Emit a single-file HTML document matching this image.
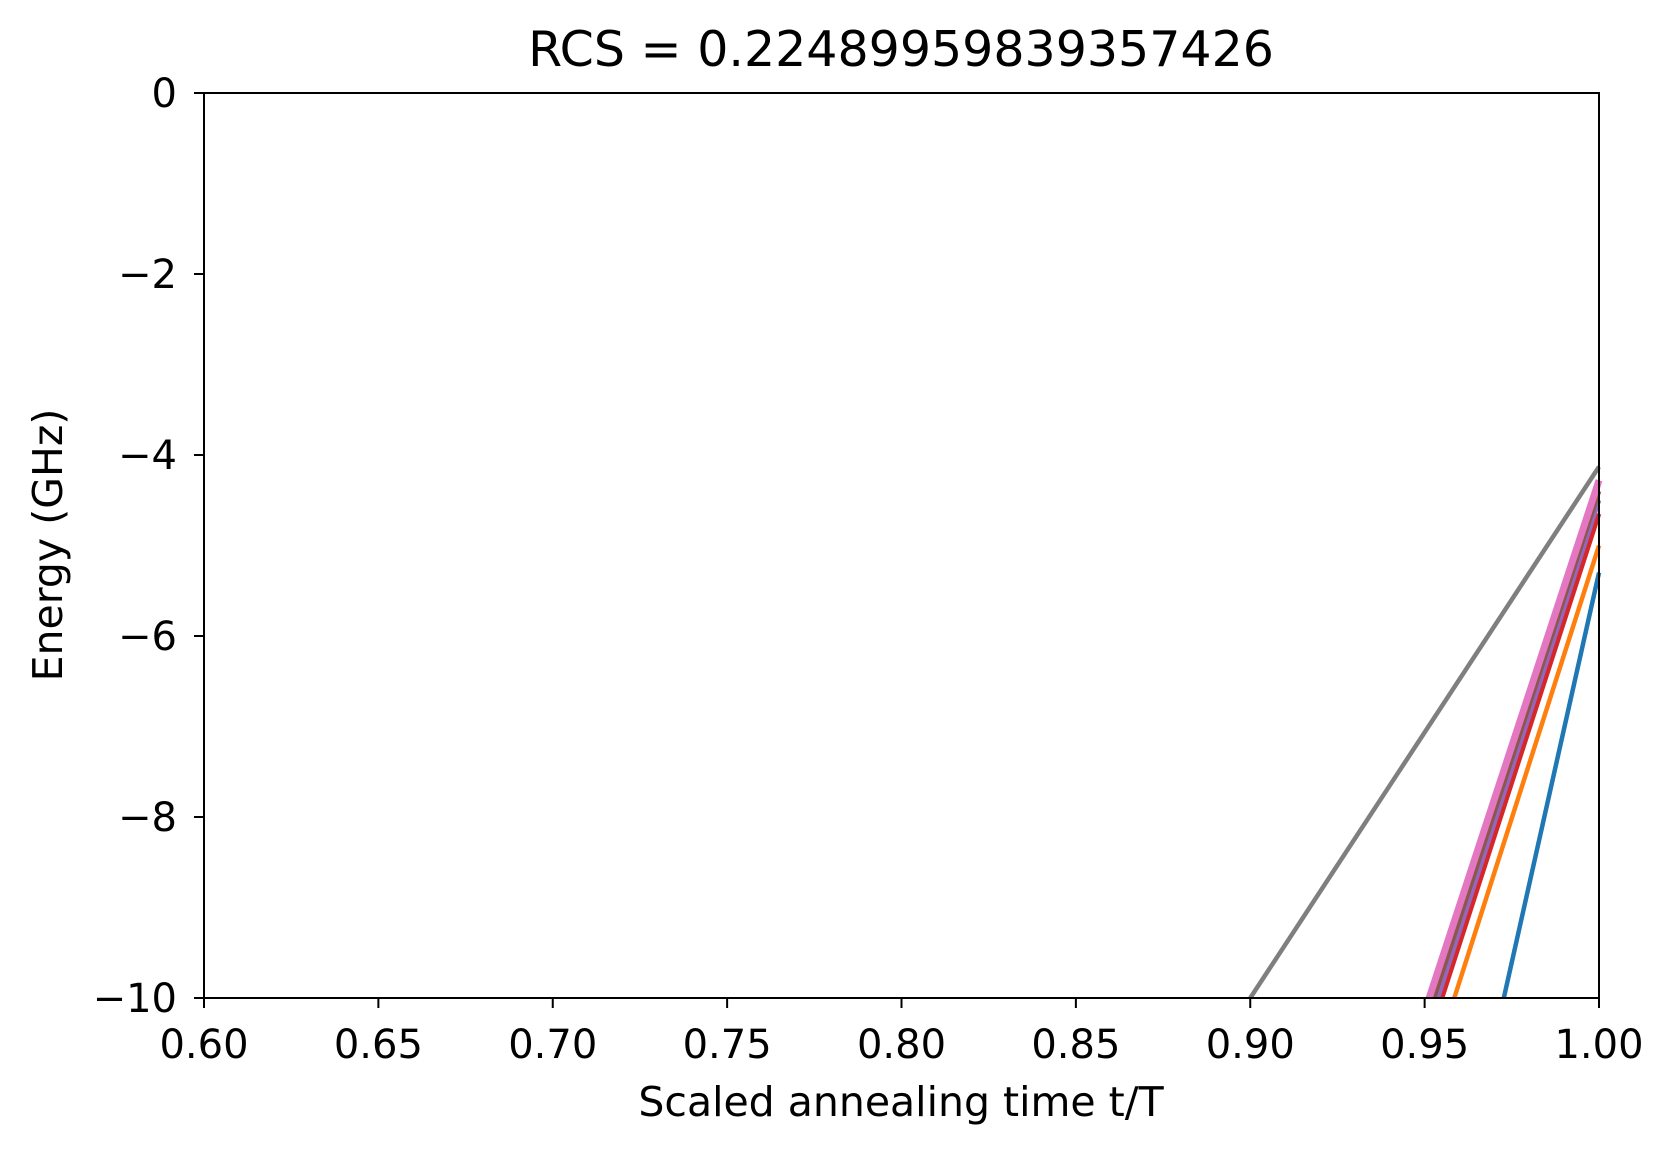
<!DOCTYPE html>
<html><head><meta charset="utf-8"><style>
body{margin:0;background:#fff}
svg text{font-family:"DejaVu Sans","Liberation Sans",sans-serif;fill:#000}
</style></head><body>
<svg id="chart" width="1675" height="1154" viewBox="0 0 1675 1154">
<g id="lines"></g>
<rect x="204" y="93" width="1395" height="905" fill="none" stroke="#000" stroke-width="2"/>
<g id="xt"></g>
<g id="yt"></g>
<text x="901" y="66" font-size="49" text-anchor="middle">RCS = 0.22489959839357426</text>
<text x="901" y="1116" font-size="41" text-anchor="middle">Scaled annealing time t/T</text>
<text transform="translate(62,545) rotate(-90)" font-size="41" text-anchor="middle">Energy (GHz)</text>
</svg>
<script>
const xTicks=[0.60,0.65,0.70,0.75,0.80,0.85,0.90,0.95,1.00];
const yTicks=[0,-2,-4,-6,-8,-10];
const seriesNames=["blue","orange","red","purple","brown","pink","gray"];
const seriesColors=["#1f77b4","#ff7f0e","#d62728","#9467bd","#8c564b","#e377c2","#7f7f7f"];
const startX=[0.9727,0.9585,0.9550,0.9538,0.9527,0.9513,0.900];
const startY=[-10,-10,-10,-10,-10,-10,-10];
const endX=[1,1,1,1,1,1,1];
const endY=[-5.3,-5.0,-4.65,-4.5,-4.4,-4.28,-4.13];
const X0=204,X1=1599,Y0=93,Y1=998;
const sx=v=>X0+(v-0.6)/0.4*(X1-X0);
const sy=v=>Y0+(0-v)/10*(Y1-Y0);
const NS="http://www.w3.org/2000/svg";
const lg=document.getElementById('lines');
seriesNames.forEach((n,i)=>{
 const l=document.createElementNS(NS,'line');
 l.setAttribute('x1',sx(startX[i]));l.setAttribute('y1',sy(startY[i]));
 l.setAttribute('x2',sx(endX[i]));l.setAttribute('y2',sy(endY[i]));
 l.setAttribute('stroke',seriesColors[i]);
 l.setAttribute('stroke-width',i==5?7:4.5);
 
 
 lg.appendChild(l);
});
const xg=document.getElementById('xt');
xTicks.forEach(v=>{
 const t=document.createElementNS(NS,'line');
 t.setAttribute('x1',sx(v));t.setAttribute('x2',sx(v));t.setAttribute('y1',Y1);t.setAttribute('y2',Y1+10);t.setAttribute('stroke','#000');t.setAttribute('stroke-width',2);
 
 
 xg.appendChild(t);
 const s=document.createElementNS(NS,'text');
 s.setAttribute('x',sx(v));s.setAttribute('y',Y1+60);s.setAttribute('font-size',40);s.setAttribute('text-anchor','middle');
 s.textContent=v.toFixed(2);
 
 
 xg.appendChild(s);
});
const yg=document.getElementById('yt');
yTicks.forEach(v=>{
 const t=document.createElementNS(NS,'line');
 t.setAttribute('x1',X0-10);t.setAttribute('x2',X0);t.setAttribute('y1',sy(v));t.setAttribute('y2',sy(v));t.setAttribute('stroke','#000');t.setAttribute('stroke-width',2);
 
 
 yg.appendChild(t);
 const s=document.createElementNS(NS,'text');
 s.setAttribute('x',X0-27);s.setAttribute('y',sy(v)+14);s.setAttribute('font-size',40);s.setAttribute('text-anchor','end');
 s.textContent=v<0?'\u2212'+(-v):String(v);
 
 
 yg.appendChild(s);
});
</script>
</body></html>
